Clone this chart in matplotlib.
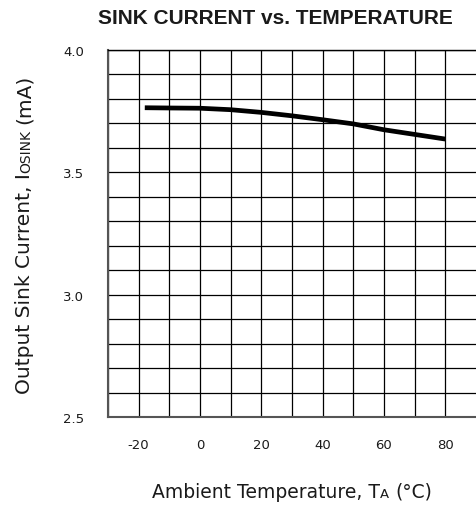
import numpy as np
import matplotlib.pyplot as plt

# data
temp_c = [-18, -10, 0, 10, 20, 30, 40, 50, 60, 70, 80]
sink_ma = [3.764, 3.763, 3.762, 3.756, 3.745, 3.731, 3.715, 3.698, 3.674, 3.655, 3.636]
x_ticks = [-20, 0, 20, 40, 60, 80]
x_labels = ["-20", "0", "20", "40", "60", "80"]
y_ticks = [2.5, 3.0, 3.5, 4.0]
y_labels = ["2.5", "3.0", "3.5", "4.0"]

plt.rcParams["font.family"] = ["DejaVu Sans"]

W, H = 477, 510
fig = plt.figure(figsize=(W / 100, H / 100), dpi=100)
# the right border of the grid runs off the picture, as in the reference
ax = fig.add_axes([108 / W, 1 - 418 / H, (479 - 108) / W, (418 - 51) / H])

ax.plot(temp_c, sink_ma, color="black", lw=3.4, solid_capstyle="butt", zorder=3)

ax.set_xlim(-30, 91)
ax.set_ylim(2.5, 4.0)
ax.set_xticks(x_ticks)
ax.set_xticklabels(x_labels)
ax.set_xticks(np.arange(-30, 81, 10), minor=True)
ax.set_yticks(y_ticks)
ax.set_yticklabels(y_labels)
ax.set_yticks(np.arange(2.5, 4.01, 0.1), minor=True)
ax.grid(True, which="both", color="black", lw=0.9)
ax.set_axisbelow(True)
ax.tick_params(which="both", length=0)
ax.tick_params(axis="x", pad=15, labelsize=9.5, labelcolor="#1a1a1a")
ax.tick_params(axis="y", pad=17, labelsize=9.5, labelcolor="#1a1a1a")
ax.spines["right"].set_visible(False)
ax.spines["top"].set_color("black")
ax.spines["top"].set_linewidth(1.0)
for side in ["left", "bottom"]:
    ax.spines[side].set_color("#555555")
    ax.spines[side].set_linewidth(1.5)

fig.text(275 / W, 1 - 18 / H, "SINK CURRENT vs. TEMPERATURE",
         family="Liberation Sans", weight="bold", fontsize=15,
         ha="center", va="center", color="#1a1a1a")

renderer = fig.canvas.get_renderer()
SPACE_EM = 0.318  # DejaVu Sans space advance


def piece_width(s, size):
    t = fig.text(0, 0, s, fontsize=size)
    w = t.get_window_extent(renderer).width
    t.remove()
    return w


def mixed_label(parts, center, baseline, rotation=0):
    # parts: (text, fontsize, space_before); laid out along the reading direction
    widths = []
    total = 0
    for s, size, gap in parts:
        g = SPACE_EM * size * 100 / 72 if gap else 0
        w = piece_width(s, size)
        widths.append((g, w))
        total += g + w
    pos = center - total / 2
    for (s, size, gap), (g, w) in zip(parts, widths):
        pos += g
        if rotation == 0:
            xy = (pos / W, baseline / H)
        else:
            xy = (baseline / W, pos / H)
        fig.text(xy[0], xy[1], s, fontsize=size, rotation=rotation,
                 rotation_mode="anchor", ha="left", va="baseline", color="#1a1a1a")
        pos += w


mixed_label([("Ambient Temperature, T", 13.5, False), ("A", 9.5, False), ("(°C)", 13.5, True)],
            center=292, baseline=H - 498)
mixed_label([("Output Sink Current, I", 14.5, False), ("OSINK", 10, False), ("(mA)", 14.5, True)],
            center=H - 234.5, baseline=30, rotation=90)

fig.savefig("out.png", dpi=100)
